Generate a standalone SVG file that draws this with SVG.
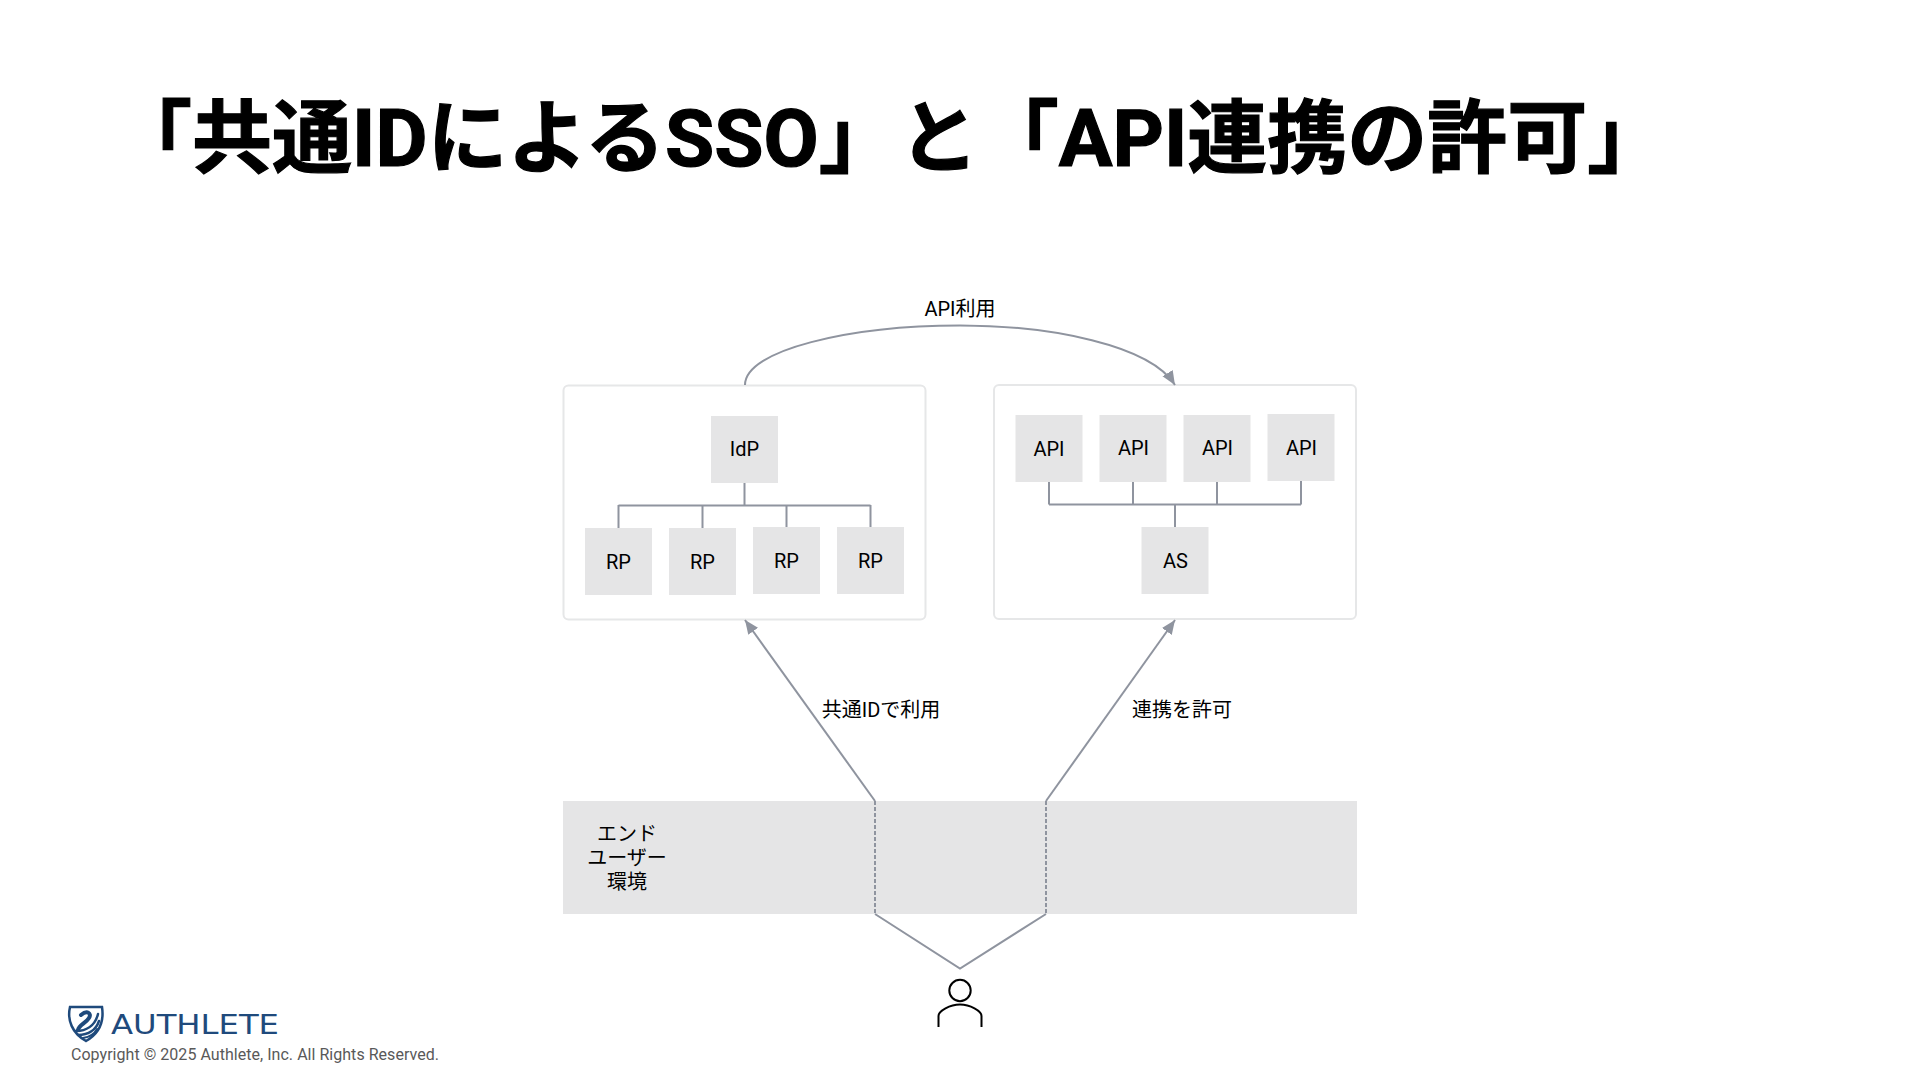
<svg xmlns="http://www.w3.org/2000/svg" width="1920" height="1080" viewBox="0 0 1920 1080">
<defs>
<style>
text{font-family:Roboto,"Noto Sans CJK JP",sans-serif;fill:#000}
.lb{font-size:20px;text-anchor:middle}
.sq{fill:#e5e5e6}
.box{fill:#fff;stroke:#e6e7e8;stroke-width:2}
.c{fill:none;stroke:#8f949f;stroke-width:2}
.d{fill:none;stroke:#8f949f;stroke-width:2;stroke-dasharray:4 2}
</style>
<marker id="ah" markerUnits="userSpaceOnUse" markerWidth="15" markerHeight="15" refX="14" refY="7.500" orient="auto"><path d="M0 1.500L14 7.500L0 13.500Z" fill="#8f949f"/></marker>
</defs>
<rect width="1920" height="1080" fill="#fff"/>
<text id="title" x="112" y="166" font-size="80" font-weight="700" style="stroke:#000;stroke-width:1.2">「共通IDによるSSO」と「API連携の許可」</text>
<g id="group-left"><rect class="box" x="563.500" y="385.500" width="362" height="234" rx="5"/></g>
<g id="group-right"><rect class="box" x="994" y="385" width="362" height="234" rx="5"/></g>
<g id="env"><rect class="sq" x="563" y="801" width="794" height="113"/>
<text class="lb"><tspan x="627" y="841">エンド</tspan><tspan x="627" y="865">ユーザー</tspan><tspan x="627" y="889">環境</tspan></text></g>
<g id="connectors">
<path class="c" d="M744.500 483V505M618.500 505.500H870.500M618.500 505V528M702.500 505V528M786.500 505V527M870.500 505V527"/>
<path class="c" style="stroke-width:1" d="M744.500 483V505M702.500 505.500H786.500"/>
<path class="c" d="M1049 482V504.500M1049 504.500H1301M1133 482V504.500M1217 482V504.500M1301 481V504.500M1175 504.500V527"/>
<path class="c" marker-end="url(#ah)" d="M745 385C745 350 850 325.500 960 325.500C1050 325.500 1150 345 1175 385"/>
<path class="c" marker-end="url(#ah)" d="M875 801L745 620"/>
<path class="c" marker-end="url(#ah)" d="M1046 801L1175 620"/>
<path class="d" d="M875 801V914M1046 801V914"/>
<path class="c" d="M875 914L960 968.500L1046 914"/>
</g>
<g id="idp"><rect class="sq" x="711" y="416" width="67" height="67"/><text class="lb" x="744.500" y="456">IdP</text></g>
<g id="rp1"><rect class="sq" x="585" y="528" width="67" height="67"/><text class="lb" x="618.500" y="569">RP</text></g>
<g id="rp2"><rect class="sq" x="669" y="528" width="67" height="67"/><text class="lb" x="702.500" y="569">RP</text></g>
<g id="rp3"><rect class="sq" x="753" y="527" width="67" height="67"/><text class="lb" x="786.500" y="568">RP</text></g>
<g id="rp4"><rect class="sq" x="837" y="527" width="67" height="67"/><text class="lb" x="870.500" y="568">RP</text></g>
<g id="api1"><rect class="sq" x="1015.500" y="415" width="67" height="67"/><text class="lb" x="1049" y="456">API</text></g>
<g id="api2"><rect class="sq" x="1099.500" y="415" width="67" height="67"/><text class="lb" x="1133.500" y="455">API</text></g>
<g id="api3"><rect class="sq" x="1183.500" y="415" width="67" height="67"/><text class="lb" x="1217.500" y="455">API</text></g>
<g id="api4"><rect class="sq" x="1267.500" y="414" width="67" height="67"/><text class="lb" x="1301.500" y="455">API</text></g>
<g id="as"><rect class="sq" x="1141.500" y="527" width="67" height="67"/><text class="lb" x="1175.500" y="568">AS</text></g>
<text class="lb" x="960" y="316">API利用</text>
<text class="lb" x="881" y="717">共通IDで利用</text>
<text class="lb" x="1182" y="717">連携を許可</text>
<g id="user" fill="none" stroke="#000" stroke-width="2"><circle cx="960" cy="990.500" r="10.700"/><path d="M938.500 1027V1016C938.500 1011 950 1004.500 960 1004.500S981.500 1011 981.500 1016V1027"/></g>
<g id="logo">
<path d="M70 1007H102C104 1020 100 1033 86 1041C72 1033 67 1020 70 1007Z" fill="none" stroke="#1f4a7c" stroke-width="2.500"/>
<g fill="none" stroke="#1f4a7c" stroke-linecap="round"><path stroke-width="4" d="M81 1015C87 1010 92 1013 89 1018C86 1023 79 1025 78 1030"/><path stroke-width="2.500" d="M76 1031C86 1031 95 1026 98 1014"/><path stroke-width="2.500" d="M78 1035C88 1035 96 1030 99 1021"/><path stroke-width="2" d="M83 1038C90 1037 95 1033 97 1029"/></g>
<text x="111" y="1034" font-size="27" font-weight="400" textLength="168" lengthAdjust="spacingAndGlyphs" style="font-family:'DejaVu Sans',sans-serif;fill:#1f4a7c">AUTHLETE</text>
<text x="71" y="1060" font-size="16" textLength="368" style="fill:#595959">Copyright © 2025 Authlete, Inc. All Rights Reserved.</text>
</g>
</svg>
